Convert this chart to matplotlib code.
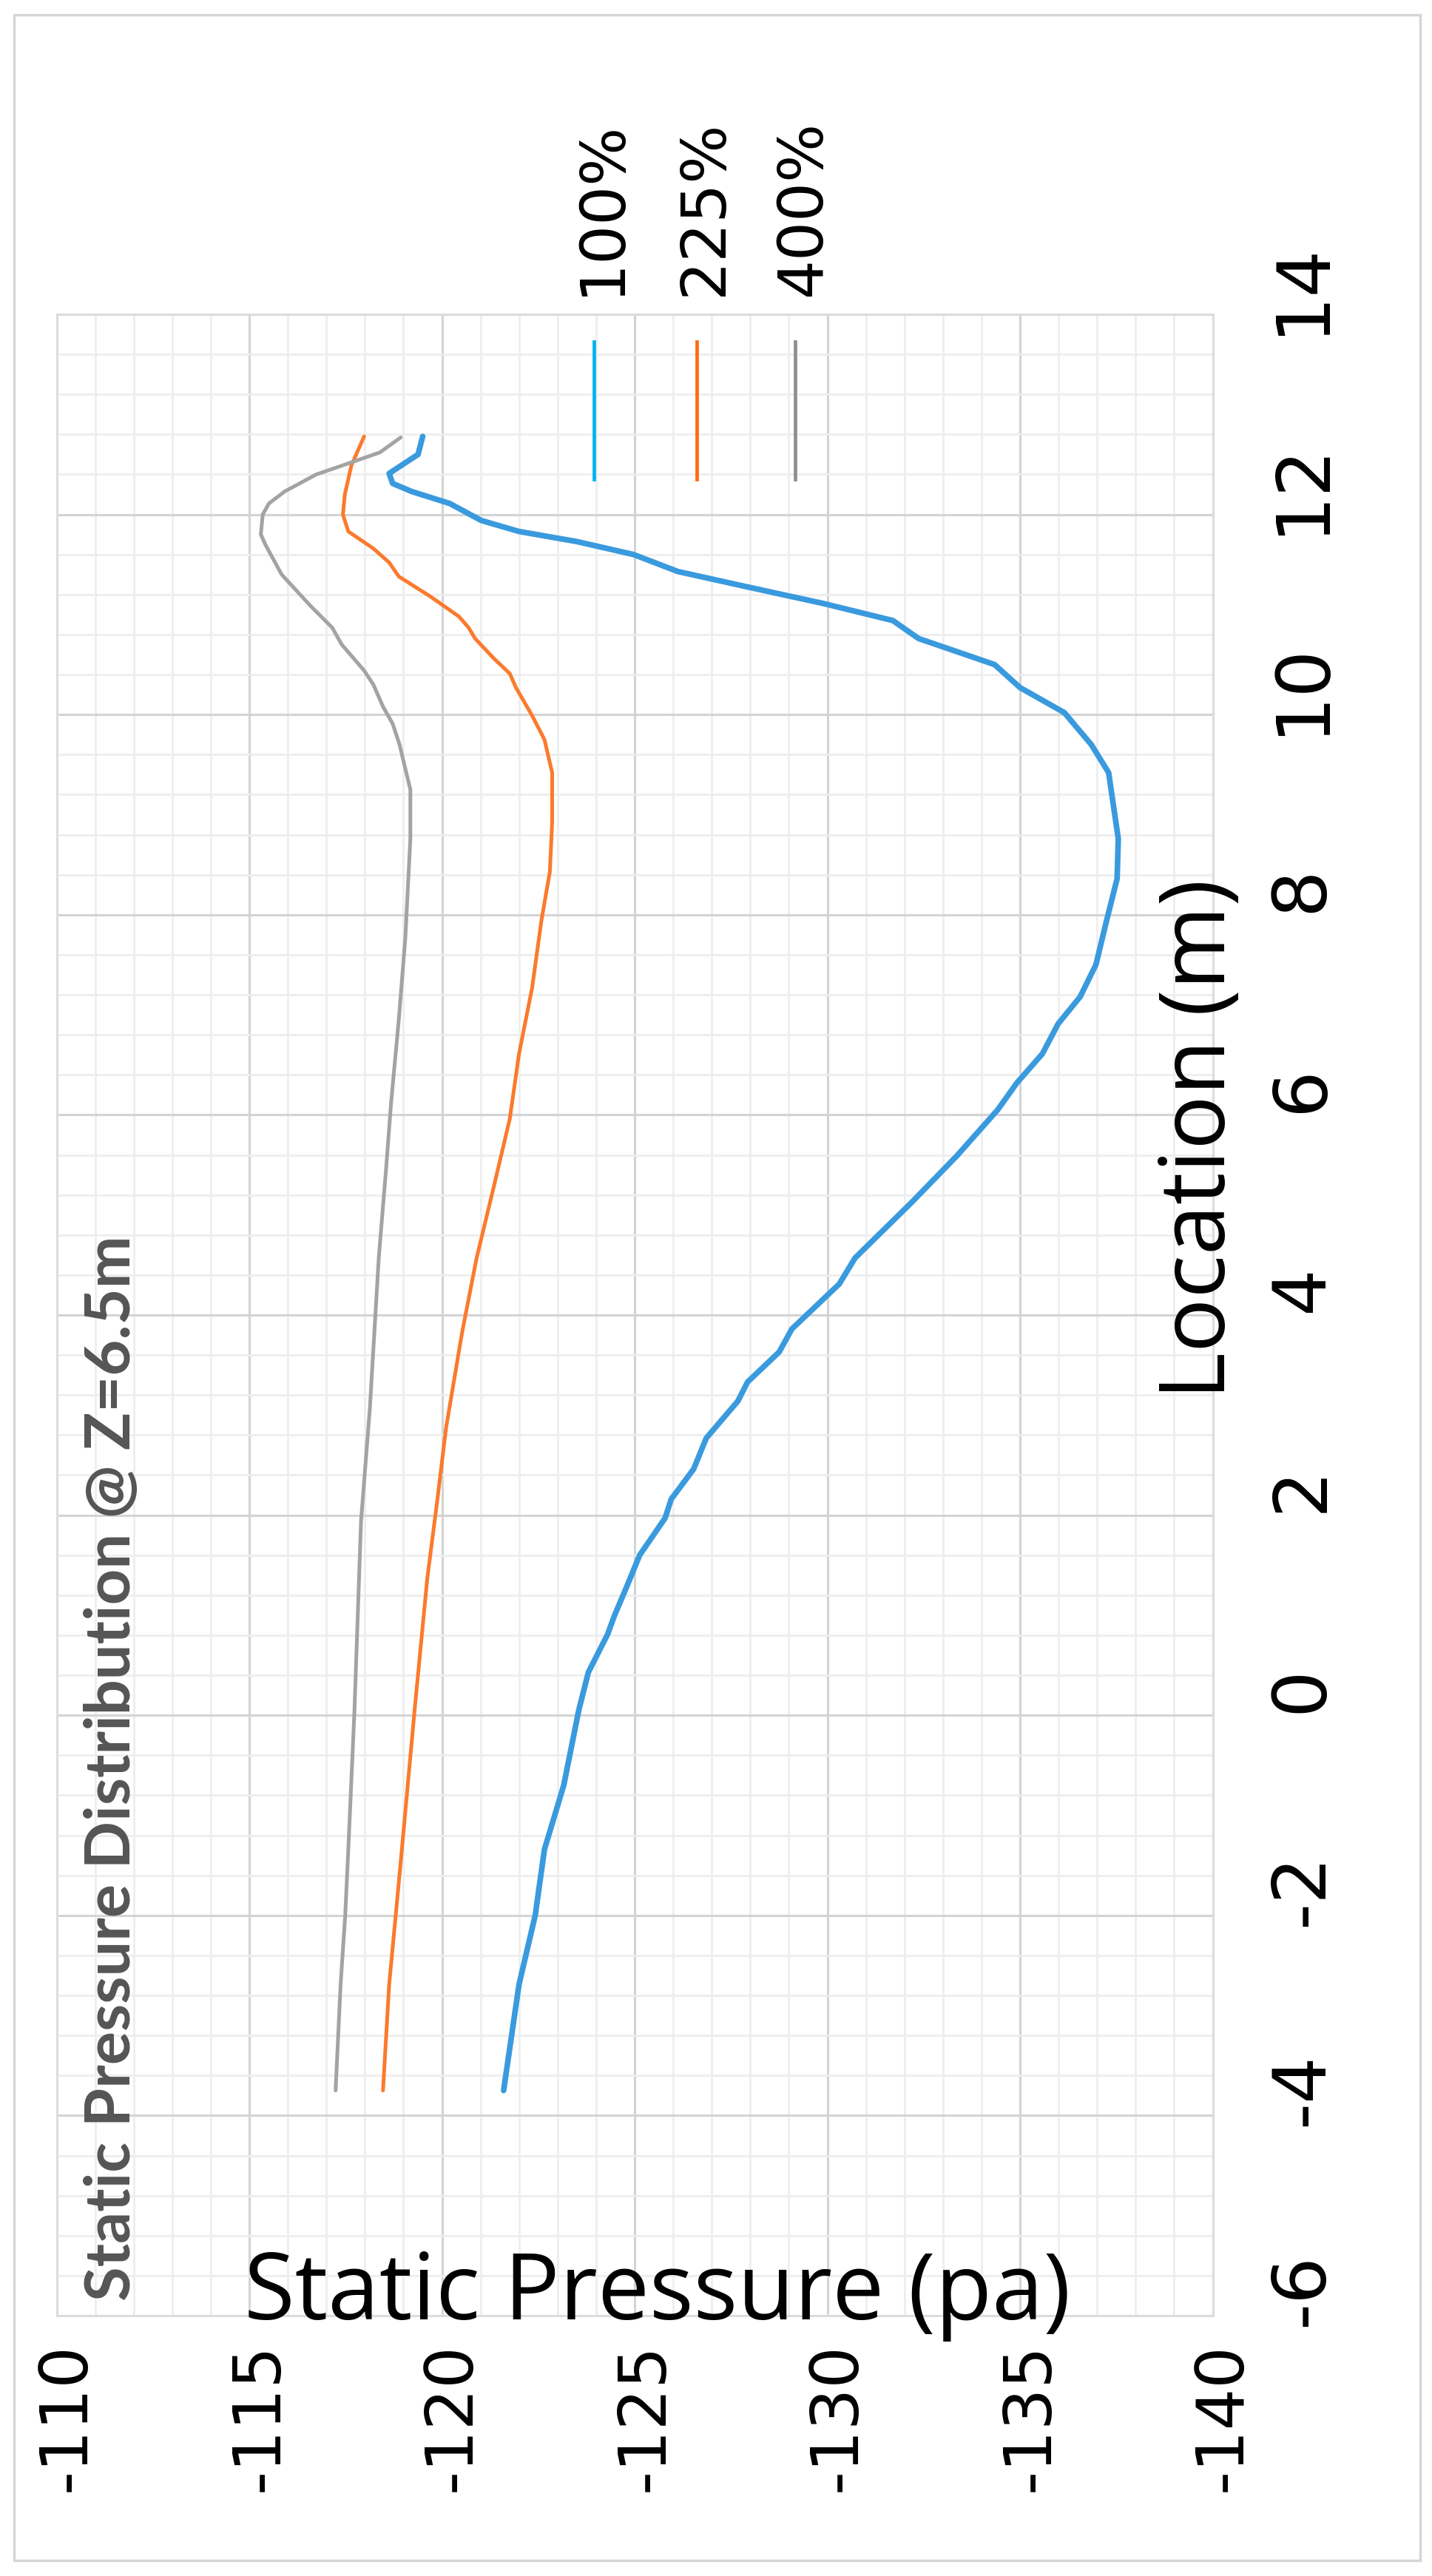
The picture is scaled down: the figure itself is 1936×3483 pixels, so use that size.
import numpy as np
import matplotlib
matplotlib.use("Agg")
import matplotlib.pyplot as plt
from matplotlib.transforms import ScaledTranslation
from matplotlib.lines import Line2D
from matplotlib.patches import Rectangle

loc_100 = [-3.75, -2.69, -2.0, -1.34, -0.7, 0.05, 0.43, 0.81, 0.99, 1.29, 1.6, 1.97,
           2.16, 2.46, 2.77, 3.14, 3.33, 3.63, 3.86, 4.31, 4.57, 5.13, 5.59, 6.05,
           6.32, 6.61, 6.91, 7.18, 7.5, 7.9, 8.36, 8.76, 9.42, 9.7, 10.02, 10.27,
           10.5, 10.76, 10.94, 11.11, 11.29, 11.43, 11.6, 11.73, 11.83, 11.94, 12.11,
           12.23, 12.31, 12.41, 12.6, 12.78]
p_100 = [-121.6, -122.0, -122.42, -122.66, -123.16, -123.55, -123.8, -124.3, -124.47,
         -124.8, -125.13, -125.79, -125.95, -126.53, -126.86, -127.68, -127.93, -128.75,
         -129.08, -130.31, -130.72, -132.2, -133.36, -134.42, -134.92, -135.58, -135.99,
         -136.56, -136.97, -137.22, -137.52, -137.55, -137.3, -136.85, -136.15, -135.0,
         -134.34, -132.37, -131.7, -129.9, -127.76, -126.12, -124.97, -123.49, -122.0,
         -121.02, -120.2, -119.21, -118.72, -118.63, -119.38, -119.5]

loc_225 = [-3.75, -2.69, -2.0, -1.34, 0.05, 1.37, 2.12, 2.88, 3.82, 4.57, 5.29, 5.96,
           6.61, 7.27, 7.94, 8.43, 8.93, 9.42, 9.75, 9.99, 10.27, 10.41, 10.56, 10.76,
           10.87, 10.98, 11.18, 11.38, 11.52, 11.66, 11.83, 12.0, 12.2, 12.49, 12.78]
p_225 = [-118.47, -118.63, -118.8, -118.96, -119.29, -119.62, -119.87, -120.11, -120.52,
         -120.9, -121.35, -121.76, -122.0, -122.34, -122.58, -122.8, -122.86, -122.86,
         -122.66, -122.34, -121.92, -121.76, -121.35, -120.86, -120.69, -120.44, -119.7,
         -118.88, -118.63, -118.22, -117.57, -117.43, -117.48, -117.65, -117.98]

loc_400 = [-3.75, -2.69, -2.0, -1.34, 0.05, 1.94, 3.07, 4.57, 5.46, 6.12, 6.95, 7.77,
           8.76, 9.25, 9.7, 9.91, 10.08, 10.3, 10.44, 10.7, 10.87, 11.09, 11.4, 11.69,
           11.8, 12.0, 12.11, 12.23, 12.4, 12.51, 12.62, 12.77]
p_400 = [-117.24, -117.37, -117.49, -117.57, -117.73, -117.9, -118.13, -118.36, -118.55,
         -118.68, -118.88, -119.05, -119.18, -119.18, -118.9, -118.72, -118.47, -118.22,
         -117.98, -117.4, -117.15, -116.58, -115.84, -115.43, -115.3, -115.35, -115.51,
         -115.92, -116.74, -117.57, -118.39, -118.93]

series_names = ["100%", "225%", "400%"]
line_colors = ["#3a9ade", "#fb7a2e", "#a3a3a3"]
legend_colors = ["#00b2ef", "#ff6a12", "#8e8e8e"]

pressure_ticks = [-110, -115, -120, -125, -130, -135, -140]
location_ticks = [-6, -4, -2, 0, 2, 4, 6, 8, 10, 12, 14]

W, H = 1936, 3483
fig = plt.figure(figsize=(W / 100, H / 100), dpi=100)
fig.patch.set_facecolor("white")

# outer chart border
fig.patches.append(Rectangle((19 / W, 1 - 3462 / H), (1920 - 19) / W, (3462 - 20) / H,
                             transform=fig.transFigure, fill=False,
                             edgecolor="#d6d6d6", lw=2.5))

ax = fig.add_axes([76.5 / W, 1 - 3131 / H, (1639.5 - 76.5) / W, (3131 - 425) / H])

ax.plot(p_100, loc_100, color=line_colors[0], lw=5.5, solid_capstyle="round",
        solid_joinstyle="round")
ax.plot(p_225, loc_225, color=line_colors[1], lw=3.6, solid_capstyle="round",
        solid_joinstyle="round")
ax.plot(p_400, loc_400, color=line_colors[2], lw=3.6, solid_capstyle="round",
        solid_joinstyle="round")

ax.set_xlim(-110, -140)
ax.set_ylim(-6, 14)

ax.set_xticks(pressure_ticks)
ax.set_xticks(np.arange(-140, -109, 1), minor=True)
ax.set_yticks(location_ticks)
ax.set_yticks(np.arange(-6, 14.01, 0.4), minor=True)
ax.yaxis.tick_right()

ax.set_xticklabels([str(v) for v in pressure_ticks], rotation=90,
                   fontsize=64, family="DejaVu Sans")
ax.set_yticklabels([str(v) for v in location_ticks], rotation=90,
                   fontsize=72, family="DejaVu Sans", va="center", ha="left")
ax.tick_params(axis="both", which="both", length=0)
ax.tick_params(axis="x", pad=26)
ax.tick_params(axis="y", pad=52)

ax.grid(which="major", color="#d4d4d4", lw=2.2)
ax.grid(which="minor", color="#eeeeee", lw=2.0)
ax.set_axisbelow(True)
for s in ax.spines.values():
    s.set_color("#dcdcdc")
    s.set_linewidth(2.2)

# the labels in the picture sit a little off their grid lines
for lab in ax.get_yticklabels():
    lab.set_transform(lab.get_transform() + ScaledTranslation(0, 0.35, fig.dpi_scale_trans))
for lab in ax.get_xticklabels():
    lab.set_transform(lab.get_transform() + ScaledTranslation(0.14, 0, fig.dpi_scale_trans))

# axis titles (chart is drawn turned on its side)
fig.text(330 / W, 1 - 3136 / H, "Static Pressure (pa)", fontsize=90,
         family=["Open Sans", "DejaVu Sans"], ha="left", va="baseline")
fig.text(1624 / W, 1 - 1540 / H, "Location (m)", fontsize=88, rotation=90,
         family=["Open Sans", "DejaVu Sans"], ha="center", va="center")
fig.text(152 / W, 1 - 3111 / H, "Static Pressure Distribution @ Z=6.5m", fontsize=61,
         rotation=90, color="#555555", fontweight="bold",
         family=["Lato", "DejaVu Sans"], ha="center", va="bottom")

# legend, turned as well
leg_x = [803, 942, 1075]
for name, c, x in zip(series_names, legend_colors, leg_x):
    fig.lines.append(Line2D([x / W, x / W], [1 - 462 / H, 1 - 648 / H],
                            transform=fig.transFigure, color=c, lw=3.4))
    fig.text((x + 10) / W, 1 - 400 / H, name, fontsize=60, rotation=90,
             family="DejaVu Sans", ha="center", va="bottom")

fig.savefig("out.png", dpi=100)
